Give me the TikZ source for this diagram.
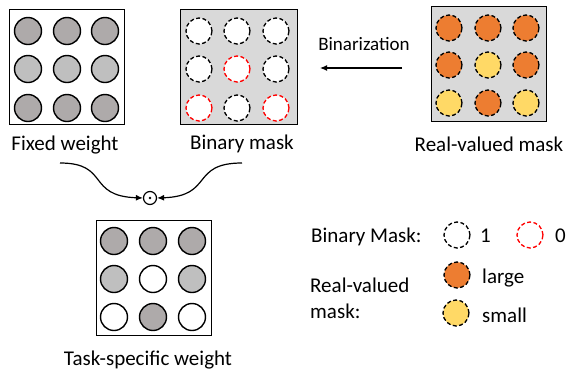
\documentclass[tikz,border=0pt]{standalone}
\usepackage{fontspec}
\setmainfont{Carlito}
\usetikzlibrary{arrows.meta}
\definecolor{dgray}{HTML}{AEAAAA}
\definecolor{lgray}{HTML}{BFBFBF}
\definecolor{bgray}{HTML}{D9D9D9}
\definecolor{morange}{HTML}{ED7D31}
\definecolor{myellow}{HTML}{FFD966}
\definecolor{mred}{HTML}{FF0000}
\begin{document}
\begin{tikzpicture}[x=1pt,y=-1pt,
  panel/.style={draw, line width=1.8pt, minimum width=115pt, minimum height=115pt, inner sep=0pt},
  wcirc/.style={circle, draw, line width=1.4pt, minimum size=27pt, inner sep=0pt},
  mcirc/.style={circle, draw, line width=1.3pt, dash pattern=on 4pt off 2.4pt, minimum size=26pt, inner sep=0pt},
  lbl/.style={font=\fontsize{21}{24}\selectfont, anchor=base, inner sep=0pt},
  llbl/.style={font=\fontsize{21}{24}\selectfont, anchor=base west, inner sep=0pt},
  arr/.style={line width=1.2pt, -{Latex[length=7pt,width=6pt]}}]
\useasboundingbox (0,0) rectangle (571,373);

% Fixed weight
\node[panel] (fw) at (67,67) {};
\foreach \i/\x in {1/28,2/67,3/105}{
  \node[wcirc, fill=dgray] (fwa\i) at (\x,31) {};
  \node[wcirc, fill=lgray] (fwb\i) at (\x,69) {};
  \node[wcirc, fill=dgray] (fwc\i) at (\x,108) {};
}
\node[lbl] (fwl) at (65,150) {Fixed weight};

% Binary mask
\node[panel, fill=bgray, minimum width=117pt] (bm) at (239,67) {};
\foreach \n/\x/\y/\c in {a1/199/31/black, a2/237/31/black, a3/276/31/black,
  b1/199/69/black, b2/237/69/mred, b3/276/69/black,
  c1/199/108/mred, c2/237/108/black, c3/276/108/mred}{
  \node[mcirc, draw=\c, fill=white] (bm\n) at (\x,\y) {};
}
\node[lbl] (bml) at (242,149) {Binary mask};

% Real-valued mask
\node[panel, fill=bgray] (rm) at (489,64) {};
\foreach \n/\x/\y/\c in {a1/449/28/morange, a2/488/28/morange, a3/526/28/morange,
  b1/449/65/morange, b2/488/65/myellow, b3/526/65/morange,
  c1/449/103/myellow, c2/488/103/morange, c3/526/103/myellow}{
  \node[mcirc, fill=\c] (rm\n) at (\x,\y) {};
}
\node[lbl] (rml) at (489,151) {Real-valued mask};

% Binarization arrow
\node[lbl, font=\fontsize{19}{22}\selectfont] (bin) at (364,50) {Binarization};
\coordinate (bs) at (402,68);
\coordinate (be) at (320,68);
\draw[arr] (bs) -- (be);

% odot
\node[circle, draw, line width=1.2pt, minimum size=13pt, inner sep=0pt] (od) at (150,198) {};
\fill (od.center) circle (1.4pt);
\coordinate (ls) at (60,163);
\coordinate (rs) at (242,163);
\draw[arr] (ls) .. controls (110,163) and (86,196) .. (od.west);
\draw[arr] (rs) .. controls (190,163) and (214,196) .. (od.east);

% Task-specific weight
\node[panel] (tw) at (154,278) {};
\foreach \n/\x/\y/\c in {a1/114/241/dgray, a2/153/241/dgray, a3/192/241/dgray,
  b1/114/279/lgray, b2/153/279/white, b3/192/279/lgray,
  c1/114/317/white, c2/153/317/dgray, c3/192/317/white}{
  \node[wcirc, fill=\c] (tw\n) at (\x,\y) {};
}
\node[lbl] (twl) at (148,365) {Task-specific weight};

% Legend
\node[llbl] (lg1) at (311,242) {Binary Mask:};
\node[mcirc, fill=white] (lc1) at (457,235) {};
\node[llbl] (lg1a) at (480,242) {1};
\node[mcirc, draw=mred, fill=white] (lc0) at (530,235) {};
\node[llbl] (lg0a) at (555,242) {0};
\node[llbl] (lg2) at (310,292) {Real-valued};
\node[llbl] (lg3) at (310,318) {mask:};
\node[mcirc, fill=morange] (lco) at (457,275) {};
\node[llbl] (lgl) at (482,283) {large};
\node[mcirc, fill=myellow] (lcy) at (456,313) {};
\node[llbl] (lgs) at (482,322) {small};
\end{tikzpicture}
\end{document}
